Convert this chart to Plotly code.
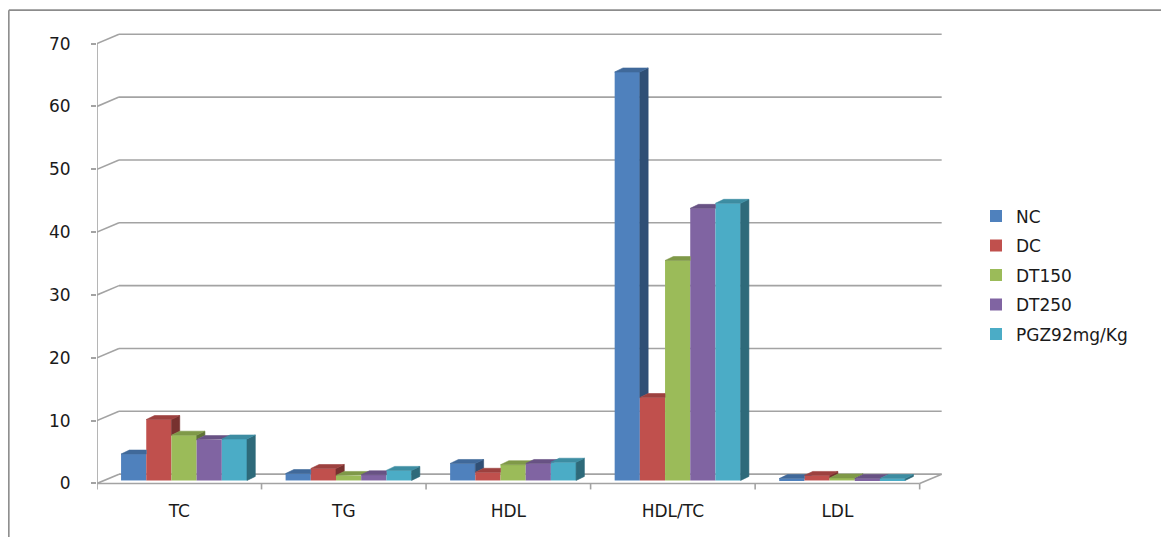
import plotly.graph_objects as go

# ---------------- data ----------------
categories = ["TC", "TG", "HDL", "HDL/TC", "LDL"]
series_names = ["NC", "DC", "DT150", "DT250", "PGZ92mg/Kg"]
nc_values = [4.2, 1.1, 2.7, 65.0, 0.3]
dc_values = [9.7, 1.9, 1.3, 13.2, 0.8]
dt150_values = [7.2, 0.8, 2.5, 35.0, 0.4]
dt250_values = [6.5, 0.9, 2.7, 43.3, 0.3]
pgz_values = [6.6, 1.6, 2.9, 44.1, 0.3]
y_ticks = [0, 10, 20, 30, 40, 50, 60, 70]

all_values = [nc_values, dc_values, dt150_values, dt250_values, pgz_values]
front_colors = ["#4F81BD", "#C0504D", "#9BBB59", "#8064A2", "#4BACC6"]

# ---------------- geometry (style) ----------------
PAGE_OFF = 8.0                       # browser body margin
W_PX, H_PX = 1169 - 8, 537 - 8
PX_X = 164.6      # pixels per category unit
PX_Y = 6.28       # pixels per value unit
X_MIN, X_MAX = -0.5, 4.66
Y_MIN, Y_MAX = -1.2, 72.0
LEFT = 97.0 - PAGE_OFF
ZERO_Y = 483.0 - PAGE_OFF

WALL_DX = 22.0 / PX_X      # depth offset of back wall
WALL_DY = 9.3 / PX_Y
BAR_W = 25.2 / PX_X
BAR_SHIFT = 0.029
BASE = 3.0 / PX_Y
DDX = 8.3 / PX_X           # bar depth
DDY = 4.0 / PX_Y

margin_l = LEFT
margin_r = W_PX - LEFT - (X_MAX - X_MIN) * PX_X
margin_t = ZERO_Y - Y_MAX * PX_Y
margin_b = H_PX - (ZERO_Y - Y_MIN * PX_Y)


def shade(hex_color, f):
    h = hex_color.lstrip("#")
    r, g, b = (int(h[i:i + 2], 16) for i in (0, 2, 4))
    return "#%02x%02x%02x" % (int(r * f), int(g * f), int(b * f))


fig = go.Figure()

n_series = len(all_values)
# front faces as real bars
for j, (name, vals, col) in enumerate(zip(series_names, all_values, front_colors)):
    xs = [i + BAR_SHIFT + (j - (n_series - 1) / 2) * BAR_W for i in range(len(categories))]
    fig.add_trace(go.Bar(
        x=xs, y=vals, base=[BASE] * len(vals), width=BAR_W, name=name,
        marker=dict(color=col, line=dict(width=0)),
        legendgroup=name, hoverinfo="name+y",
    ))

# 3-D side and top faces derived from the same values
for j, (name, vals, col) in enumerate(zip(series_names, all_values, front_colors)):
    side_x, side_y, top_x, top_y = [], [], [], []
    for i in range(len(categories)):
        x0 = i + BAR_SHIFT + (j - (n_series - 1) / 2) * BAR_W - BAR_W / 2
        x1 = x0 + BAR_W
        b = BASE
        t = BASE + vals[i]
        T = BASE + all_values[j + 1][i] if j < n_series - 1 else None
        # side face
        tp = b if T is None else max(b, T)
        if t > tp:
            side_x += [x1, x1 + DDX, x1 + DDX, x1, x1, None]
            side_y += [tp, tp + DDY, t + DDY, t, tp, None]
        # top face
        if T is None or T <= t:
            px = [x0, x1, x1 + DDX, x0 + DDX, x0]
            py = [t, t, t + DDY, t + DDY, t]
        elif T < t + DDY:
            xa = x1 + (T - t) / DDY * DDX
            px = [x0, x1, x1, xa, x1 + DDX, x0 + DDX, x0]
            py = [t, t, T, T, t + DDY, t + DDY, t]
        else:
            px = [x0, x1, x1, x0 + DDX, x0]
            py = [t, t, t + DDY, t + DDY, t]
        top_x += px + [None]
        top_y += py + [None]
    sc = shade(col, 0.62)
    tc = shade(col, 0.82)
    fig.add_trace(go.Scatter(x=side_x, y=side_y, mode="lines", fill="toself",
                             fillcolor=sc, line=dict(width=0.6, color=sc),
                             showlegend=False, hoverinfo="skip"))
    fig.add_trace(go.Scatter(x=top_x, y=top_y, mode="lines", fill="toself",
                             fillcolor=tc, line=dict(width=0.6, color=tc),
                             showlegend=False, hoverinfo="skip"))

# walls / gridlines
GRID = "#a3a3a3"
shapes = []
xl, xr = -0.5, len(categories) - 0.5
for v in y_ticks:
    shapes.append(dict(type="line", xref="x", yref="y", layer="below",
                       x0=xl + WALL_DX, x1=xr + WALL_DX, y0=v + WALL_DY, y1=v + WALL_DY,
                       line=dict(color=GRID, width=1.6)))
    shapes.append(dict(type="line", xref="x", yref="y", layer="below",
                       x0=xl, x1=xl + WALL_DX, y0=v, y1=v + WALL_DY,
                       line=dict(color=GRID, width=1.6)))
# floor front edge and right edge
shapes.append(dict(type="line", xref="x", yref="y", layer="below",
                   x0=xl, x1=xr, y0=0, y1=0, line=dict(color=GRID, width=1.6)))
shapes.append(dict(type="line", xref="x", yref="y", layer="below",
                   x0=xr, x1=xr + WALL_DX, y0=0, y1=WALL_DY, line=dict(color=GRID, width=1.6)))
# value axis line
shapes.append(dict(type="line", xref="x", yref="y", layer="below",
                   x0=xl, x1=xl, y0=0, y1=y_ticks[-1], line=dict(color=GRID, width=1.6)))
# category tick marks
for k in range(len(categories) + 1):
    shapes.append(dict(type="line", xref="x", yref="y", layer="below",
                       x0=xl + k, x1=xl + k, y0=0, y1=-0.95, line=dict(color=GRID, width=1.6)))
# outer chart border (cropped at right/bottom)
plot_w = (X_MAX - X_MIN) * PX_X
plot_h = (Y_MAX - Y_MIN) * PX_Y
bx = (8.8 - PAGE_OFF - LEFT) / plot_w
by_top = (H_PX - margin_b - (10 - PAGE_OFF)) / plot_h
shapes.append(dict(type="line", xref="paper", yref="paper",
                   x0=bx, x1=bx, y0=by_top, y1=-1.0, line=dict(color="#8c8c8c", width=1.6)))
shapes.append(dict(type="line", xref="paper", yref="paper",
                   x0=bx, x1=2.0, y0=by_top, y1=by_top, line=dict(color="#8c8c8c", width=1.6)))

FONT = "DejaVu Sans"
fig.update_layout(
    width=W_PX, height=H_PX,
    margin=dict(l=margin_l, r=margin_r, t=margin_t, b=margin_b, pad=0, autoexpand=False),
    paper_bgcolor="white", plot_bgcolor="white",
    barmode="overlay",
    shapes=shapes,
    font=dict(family=FONT, size=17, color="#1a1a1a"),
    xaxis=dict(range=[X_MIN, X_MAX], tickmode="array",
               tickvals=list(range(len(categories))), ticktext=categories,
               showgrid=False, zeroline=False, showline=False, ticks="",
               ticklabelstandoff=8, tickfont=dict(size=17, family=FONT)),
    yaxis=dict(range=[Y_MIN, Y_MAX], tickmode="array", tickvals=y_ticks,
               showgrid=False, zeroline=False, showline=False,
               ticks="outside", ticklen=5, tickwidth=1.6, tickcolor=GRID,
               ticklabelstandoff=17, tickfont=dict(size=17, family=FONT)),
    legend=dict(xref="container", yref="container", x=968 / W_PX, y=1 - 190.5 / H_PX,
                xanchor="left", yanchor="top", traceorder="grouped",
                tracegroupgap=4.4, font=dict(size=17, family=FONT),
                bgcolor="rgba(0,0,0,0)"),
    showlegend=True,
)

fig.write_html("out.html")
